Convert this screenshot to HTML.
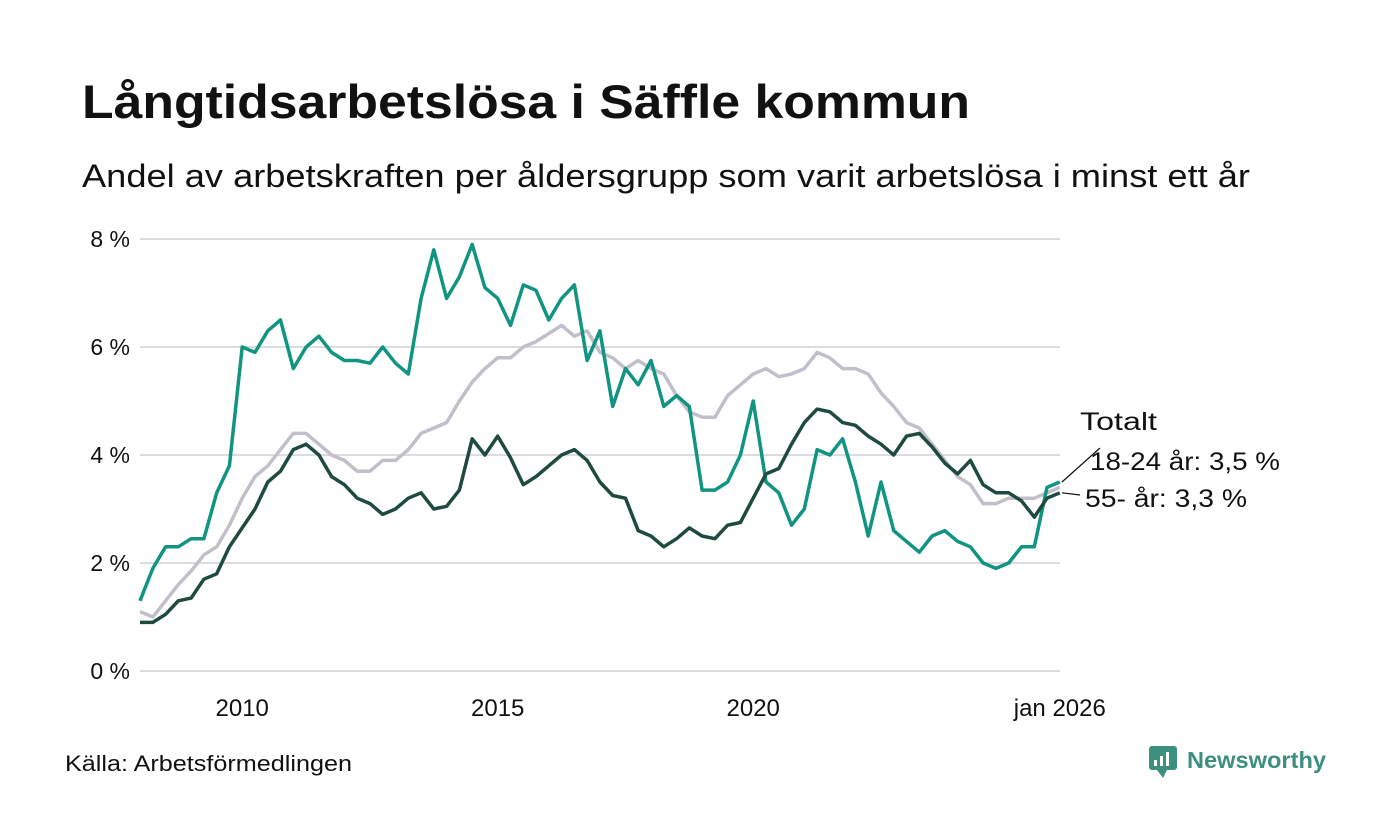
<!DOCTYPE html>
<html><head><meta charset="utf-8"><style>
body{margin:0;width:1400px;height:840px;background:#fff;font-family:"Liberation Sans",sans-serif;overflow:hidden}
svg{position:absolute;left:0;top:0}
</style></head><body>
<svg width="1400" height="840">
<text x="82" y="118" font-size="47" font-weight="bold" fill="#111" textLength="888" lengthAdjust="spacingAndGlyphs">Långtidsarbetslösa i Säffle kommun</text>
<text x="82" y="187" font-size="32" fill="#111" textLength="1168" lengthAdjust="spacingAndGlyphs">Andel av arbetskraften per åldersgrupp som varit arbetslösa i minst ett år</text>
<g id="grid"></g>
<g id="series"></g>
<g id="labels"></g>
<text x="65" y="771" font-size="22" fill="#111" textLength="287" lengthAdjust="spacingAndGlyphs">Källa: Arbetsförmedlingen</text>
<g>
<rect x="1149" y="746" width="28" height="24" rx="3" fill="#3d8f80"/>
<path d="M1157 770 L1163 778 L1167 770 Z" fill="#3d8f80"/>
<rect x="1154" y="760" width="3" height="6" fill="#fff"/><rect x="1160" y="756" width="3" height="10" fill="#fff"/><rect x="1166" y="752" width="3" height="14" fill="#fff"/>
<text x="1187" y="768" font-size="23" font-weight="bold" fill="#3d8f80" textLength="139" lengthAdjust="spacingAndGlyphs">Newsworthy</text>
</g>
</svg>
<script>
const yTicks=[0,2,4,6,8];
const yTickLabels=["0 %","2 %","4 %","6 %","8 %"];
const xTicks=[2010,2015,2020,2026];
const xTickLabels=["2010","2015","2020","jan 2026"];
const startYear=2008;
const youth=[1.3,1.9,2.3,2.3, 2.45,2.45,3.3,3.8, 6.0,5.9,6.3,6.5, 5.6,6.0,6.2,5.9, 5.75,5.75,5.7,6.0, 5.7,5.5,6.9,7.8, 6.9,7.3,7.9,7.1, 6.9,6.4,7.15,7.05, 6.5,6.9,7.15,5.75, 6.3,4.9,5.6,5.3, 5.75,4.9,5.1,4.9, 3.35,3.35,3.5,4.0, 5.0,3.5,3.3,2.7, 3.0,4.1,4.0,4.3, 3.5,2.5,3.5,2.6, 2.4,2.2,2.5,2.6, 2.4,2.3,2.0,1.9, 2.0,2.3,2.3,3.4, 3.5];
const total=[1.1,1.0,1.3,1.6, 1.85,2.15,2.3,2.7, 3.2,3.6,3.8,4.1, 4.4,4.4,4.2,4.0, 3.9,3.7,3.7,3.9, 3.9,4.1,4.4,4.5, 4.6,5.0,5.35,5.6, 5.8,5.8,6.0,6.1, 6.25,6.4,6.2,6.3, 5.9,5.8,5.6,5.75, 5.6,5.5,5.1,4.8, 4.7,4.7,5.1,5.3, 5.5,5.6,5.45,5.5, 5.6,5.9,5.8,5.6, 5.6,5.5,5.15,4.9, 4.6,4.5,4.2,3.9, 3.6,3.45,3.1,3.1, 3.2,3.2,3.2,3.3, 3.4];
const senior=[0.9,0.9,1.05,1.3, 1.35,1.7,1.8,2.3, 2.65,3.0,3.5,3.7, 4.1,4.2,4.0,3.6, 3.45,3.2,3.1,2.9, 3.0,3.2,3.3,3.0, 3.05,3.35,4.3,4.0, 4.35,3.95,3.45,3.6, 3.8,4.0,4.1,3.9, 3.5,3.25,3.2,2.6, 2.5,2.3,2.45,2.65, 2.5,2.45,2.7,2.75, 3.2,3.65,3.75,4.2, 4.6,4.85,4.8,4.6, 4.55,4.35,4.2,4.0, 4.35,4.4,4.15,3.85, 3.65,3.9,3.45,3.3, 3.3,3.15,2.85,3.2, 3.3];
const X=t=>140+(t-2008)*51.1;
const Y=v=>671-v*54;
const NS='http://www.w3.org/2000/svg';
function mk(tag,attrs,parent){const e=document.createElementNS(NS,tag);for(const k in attrs)e.setAttribute(k,attrs[k]);parent.appendChild(e);return e;}
const grid=document.getElementById('grid');
yTicks.forEach((v,i)=>{
  const l=mk('line',{x1:140,x2:1060,y1:Y(v),y2:Y(v),stroke:'#dcdce0','stroke-width':2},grid);
  
  
  const t=mk('text',{x:130,y:Y(v)+8,'text-anchor':'end','font-size':23,fill:'#111'},grid);
  t.textContent=yTickLabels[i];
  
  
});
xTicks.forEach((v,i)=>{
  const t=mk('text',{x:X(v),y:716,'text-anchor':'middle','font-size':24,fill:'#111'},grid);
  t.textContent=xTickLabels[i];
  
  
});
const ser=document.getElementById('series');
function line(arr,color,name){
  const d=arr.map((v,i)=>(i?'L':'M')+X(startYear+i*0.25).toFixed(1)+' '+Y(v).toFixed(1)).join(' ');
  const p=mk('path',{d:d,fill:'none',stroke:color,'stroke-width':3.5,'stroke-linejoin':'round'},ser);
  
  
}
line(total,'#c2bfcb','line-totalt');
line(youth,'#119482','line-18-24');
line(senior,'#1f4a40','line-55');
const lab=document.getElementById('labels');
const yEnd=Y(youth[youth.length-1]), sEnd=Y(senior[senior.length-1]);
mk('line',{x1:1062,y1:yEnd,x2:1100,y2:448,stroke:'#111','stroke-width':1.2},lab);
mk('line',{x1:1062,y1:sEnd,x2:1080,y2:495,stroke:'#111','stroke-width':1.2},lab);
[["Totalt",1080,430,77],["18-24 år: 3,5 %",1090,470,190],["55- år: 3,3 %",1085,507,162]].forEach(a=>{
  const t=mk('text',{x:a[1],y:a[2],'font-size':25,fill:'#111',textLength:a[3],lengthAdjust:'spacingAndGlyphs'},lab);
  t.textContent=a[0];
  
  
});
</script>
</body></html>
